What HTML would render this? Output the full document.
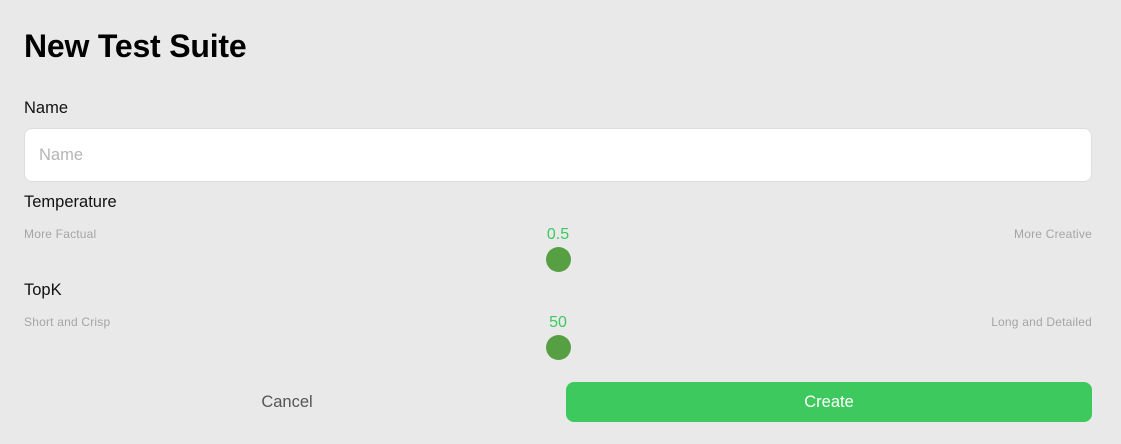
<!DOCTYPE html>
<html><head><meta charset="utf-8"><style>
body{margin:0;width:1121px;height:444px;background:#e9e9e9;font-family:"Liberation Sans",sans-serif;position:relative;overflow:hidden}
.a{position:absolute}
h1{position:absolute;left:24px;top:28px;margin:0;font-size:32px;font-weight:bold;color:#000;letter-spacing:-0.2px}
.lbl{font-size:16.5px;color:#111}
.sm{font-size:12px;color:#a5a5a5;letter-spacing:0.2px}
.val{font-size:16px;color:#3ec95e;width:60px;text-align:center}
.thumb{width:25px;height:25px;border-radius:50%;background:#56a043}
</style></head><body>
<h1>New Test Suite</h1>
<div class="a lbl" style="left:24px;top:99px">Name</div>
<div class="a" style="left:24px;top:128px;width:1068px;height:54px;background:#fff;border:1px solid #ddd;border-radius:8px;box-sizing:border-box"><span style="position:absolute;left:14px;top:17px;font-size:16.5px;color:#b5b5b5">Name</span></div>
<div class="a lbl" style="left:24px;top:193px">Temperature</div>
<div class="a sm" style="left:24px;top:227px">More Factual</div>
<div class="a sm" style="right:29px;top:227px">More Creative</div>
<div class="a val" style="left:528px;top:226px">0.5</div>
<div class="a thumb" style="left:546px;top:247px"></div>
<div class="a lbl" style="left:24px;top:281px">TopK</div>
<div class="a sm" style="left:24px;top:315px">Short and Crisp</div>
<div class="a sm" style="right:29px;top:315px">Long and Detailed</div>
<div class="a val" style="left:528px;top:314px">50</div>
<div class="a thumb" style="left:546px;top:335px"></div>
<div class="a" style="left:24px;top:382px;width:526px;height:41px;line-height:41px;text-align:center;font-size:16.5px;color:#555">Cancel</div>
<div class="a" style="left:566px;top:382px;width:526px;height:40px;line-height:41px;text-align:center;font-size:16.5px;color:#fff;background:#3dc95e;border-radius:8px">Create</div>
</body></html>
